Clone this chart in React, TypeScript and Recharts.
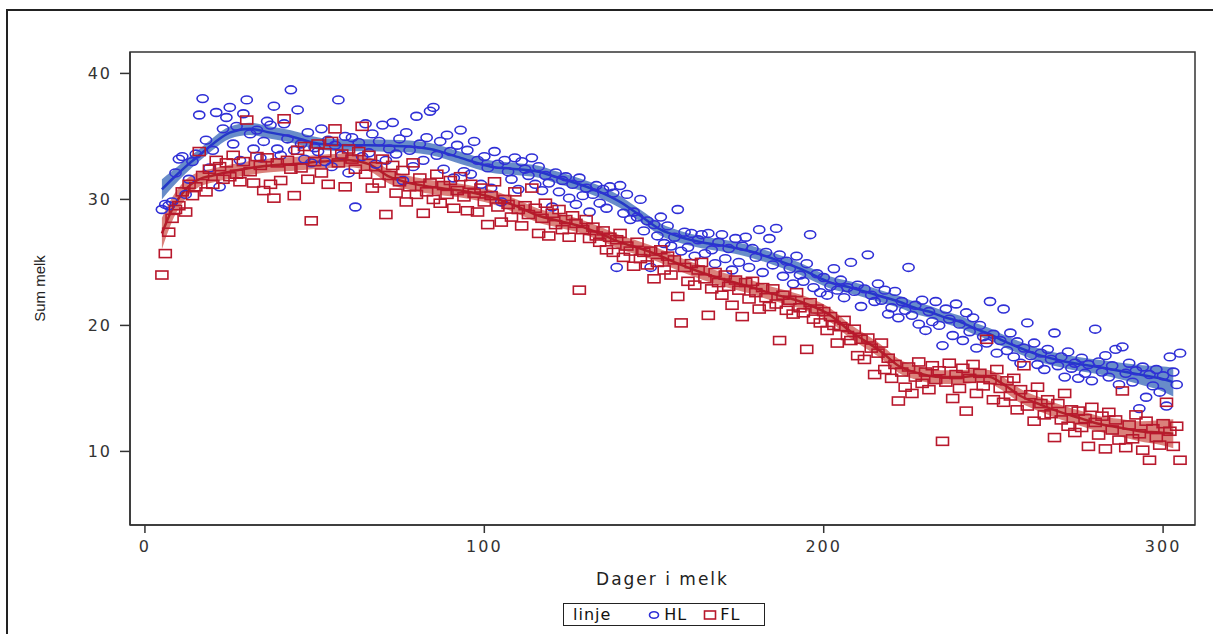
import {
  ComposedChart,
  Scatter,
  Line,
  Area,
  XAxis,
  YAxis,
  ReferenceArea,
} from "recharts";

// day-in-milk of the first observation for both groups
const FIRST_DAY = 5;

// HL, one value per day from day 5 to day 305
const hlValues = [
  29.2, 29.6, 29.5, 29.8, 32.1, 33.2, 33.4, 30.4, 31.6, 33.0,
  33.6, 36.7, 38.0, 34.7, 32.5, 33.9, 36.9, 31.0, 35.6, 36.5,
  37.3, 34.4, 35.8, 33.1, 36.8, 37.9, 35.2, 34.0, 35.5, 33.3,
  34.6, 36.2, 35.9, 37.4, 34.0, 33.5, 36.0, 34.8, 38.7, 33.9,
  37.1, 34.4, 33.2, 35.3, 32.9, 34.1, 33.8, 35.6, 33.0, 34.7,
  32.6, 34.3, 37.9, 33.5, 35.0, 32.1, 34.9, 29.4, 34.5, 33.4,
  36.0, 33.7, 35.2, 32.8, 34.6, 35.9, 33.1, 34.0, 36.1, 33.6,
  34.8, 31.5, 35.3, 33.9, 32.6, 36.6, 34.4, 33.1, 34.9, 37.0,
  37.3, 33.5, 34.6, 32.4, 35.1, 33.8, 31.7, 34.3, 35.5, 32.2,
  33.9, 32.0, 34.6, 33.1, 31.2, 33.4, 32.5, 30.9, 33.8, 32.8,
  29.8, 33.1, 32.2, 31.6, 33.3, 30.8, 33.0, 32.4, 31.9, 33.3,
  31.2, 32.6, 30.7, 31.9, 31.3, 29.4, 32.1, 30.6, 31.5, 31.8,
  30.1, 31.2, 29.6, 31.7, 30.3, 30.9, 29.0, 30.4, 31.1, 29.7,
  30.8, 29.3, 31.0, 30.5, 24.6, 31.1, 28.9, 30.4, 28.4, 29.0,
  28.6, 30.0, 27.5, 28.3, 24.6, 28.0, 27.1, 28.6, 26.5, 27.9,
  26.3, 27.0, 29.2, 25.9, 27.4, 26.2, 27.3, 25.5, 26.8, 27.2,
  25.7, 27.3, 26.0, 24.9, 26.6, 27.2, 25.3, 26.1, 24.4, 26.9,
  25.0, 26.3, 27.0, 24.6, 26.1, 25.4, 27.6, 24.2, 25.8, 26.9,
  24.8, 27.7, 25.6, 23.9, 25.1, 24.5, 23.3, 25.5, 24.0, 23.5,
  24.9, 27.2, 23.0, 24.1, 22.6, 23.8, 22.4, 23.1, 24.5, 22.8,
  23.6, 22.2, 23.0, 25.0, 22.7, 23.2, 21.5, 22.9, 25.6, 22.4,
  21.9, 23.3, 22.0, 22.8, 20.9, 21.4, 22.7, 20.6, 21.9, 21.2,
  24.6, 20.8, 21.6, 20.1, 22.0, 19.6, 21.1, 20.3, 21.9, 20.0,
  18.4, 21.3, 20.5, 19.2, 21.7, 20.1, 18.8, 21.0, 19.5, 20.6,
  18.2, 20.0, 19.1, 18.6, 21.9, 19.3, 17.8, 18.8, 21.3, 18.0,
  19.4, 17.5, 18.7, 17.0, 18.2, 20.2, 17.6, 18.6, 16.9, 17.8,
  16.5, 18.1, 17.3, 19.4, 16.8, 17.5, 15.9, 17.9, 16.6, 17.0,
  15.8, 17.4, 16.2, 16.9, 15.6, 19.7, 17.1, 16.3, 17.6, 15.9,
  16.8, 18.1, 15.3, 18.3, 16.2, 17.0, 15.5, 16.4, 13.4, 16.7,
  14.3, 16.1, 15.2, 16.5, 14.7, 16.0, 13.6, 17.5, 16.3, 15.3,
  17.8,
];

// FL, one value per day from day 5 to day 305
const flValues = [
  24.0, 25.7, 27.4, 28.5, 29.2, 29.5, 30.6, 29.0, 31.2, 30.3,
  31.0, 33.8, 31.9, 30.6, 32.4, 31.2, 33.1, 32.6, 31.6, 32.9,
  31.8, 33.5, 32.0, 31.4, 33.0, 36.3, 32.2, 31.3, 33.4, 32.7,
  30.7, 33.3, 31.2, 30.1, 32.9, 31.5, 36.4, 33.1, 32.4, 30.3,
  33.9, 32.5, 34.2, 31.6, 28.3, 33.0, 34.4, 32.1, 33.7, 31.2,
  34.6, 35.6, 32.9, 33.6, 31.0, 34.0, 33.2, 32.4, 33.8, 35.8,
  32.0, 33.5, 30.9, 32.6, 31.3, 33.2, 28.8, 31.9, 32.7, 30.5,
  31.4, 32.3, 29.8, 31.0, 32.9, 30.4, 31.7, 28.9, 30.6, 31.3,
  30.0, 32.0, 29.7, 31.1, 30.4, 31.5, 29.3, 30.7, 31.8, 30.2,
  29.1, 31.2, 30.5, 29.0, 30.9, 29.8, 28.0, 30.3, 31.4, 29.4,
  28.2, 30.0, 29.6, 28.6, 30.6, 29.2, 27.9, 29.5, 28.8, 30.9,
  29.3, 27.3, 28.5, 29.7, 27.1, 28.9, 28.0, 29.2, 27.6, 28.4,
  27.0, 28.7, 28.1, 22.8, 27.6, 28.4, 26.9, 27.8, 27.1, 26.6,
  27.5, 26.0, 27.0, 25.8, 26.8, 27.3, 25.4, 26.3, 25.9, 24.7,
  26.6, 25.3, 25.8, 24.8, 25.9, 23.7, 25.0, 26.0, 24.4, 25.5,
  24.0, 25.2, 22.3, 20.2, 24.6, 23.5, 24.9, 23.2, 24.4, 25.0,
  23.7, 20.8, 22.9, 24.2, 23.4, 22.4, 24.0, 23.1, 21.6, 23.6,
  22.8, 20.7, 23.4, 22.1, 23.5, 22.6, 21.3, 23.0, 22.2, 21.5,
  22.9, 21.7, 18.8, 22.4, 21.2, 22.0, 20.9, 22.6, 21.4, 21.0,
  18.1, 21.8, 20.5, 21.3, 20.2, 21.1, 19.6, 20.7, 20.0, 18.6,
  19.9, 20.4, 19.2, 18.8, 19.7, 17.6, 18.9, 17.3, 19.0, 18.2,
  16.1, 17.8, 18.6, 16.5, 17.4, 15.8, 16.9, 14.0, 16.3, 15.1,
  16.7, 14.6, 15.9, 17.1, 15.4, 16.3, 14.9, 16.8, 15.7, 16.4,
  10.8, 15.5, 17.0, 14.2, 16.1, 15.0, 16.6, 13.2, 15.8, 16.9,
  14.6, 16.2, 15.2, 18.9, 15.7, 14.1, 16.5, 15.0, 13.9, 15.6,
  14.4, 15.8, 13.3, 14.9, 16.8, 13.6, 14.5, 12.4, 15.1, 13.8,
  12.9, 14.1, 13.0, 11.1, 13.8, 12.5, 14.6, 12.0, 13.3, 11.5,
  13.2, 11.9, 12.6, 10.4, 13.5, 12.3, 11.3, 12.8, 10.2, 13.1,
  11.7, 12.5, 10.9, 14.8, 10.3, 12.1, 11.0, 12.9, 11.4, 10.1,
  12.4, 9.3, 11.8, 11.1, 10.5, 12.2, 13.9, 11.6, 10.4, 12.0,
  9.3,
];

// smoothed fits (lowess-like) and half-width of their confidence bands
const smoothDays = [
  5, 8, 12, 16, 20, 25, 31, 37, 43, 52, 60, 66, 72, 78, 84, 93, 102, 110,
  116, 122, 128, 134, 140, 146, 152, 158, 164, 171, 178, 185, 193, 202, 208,
  212, 217, 222, 228, 231, 235, 240, 245, 249, 252, 258, 264, 270, 276, 281,
  287, 293, 299, 303,
];
const hlSmooth = [
  30.8, 31.6, 32.6, 33.5, 34.4, 35.3, 35.6, 35.3, 35.0, 34.4, 34.3, 34.3,
  34.25, 34.2, 34.0, 33.3, 32.6, 32.4, 32.2, 31.7, 31.2, 30.6, 29.8, 28.7,
  27.6, 27.0, 26.6, 26.3, 25.9, 25.3, 24.5, 23.4, 23.0, 22.7, 22.3, 21.9,
  21.3, 21.1, 20.7, 20.3, 19.7, 19.3, 18.9, 18.2, 17.6, 17.2, 16.9, 16.7,
  16.4, 16.1, 15.8, 15.5,
];
const flSmooth = [
  27.3, 29.2, 30.8, 31.6, 31.9, 32.2, 32.5, 32.7, 32.8, 33.0, 33.1, 32.8,
  31.8, 31.3, 31.0, 30.7, 30.2, 29.4, 28.7, 28.3, 27.9, 27.3, 26.6, 26.1,
  25.5, 24.8, 24.2, 23.6, 23.1, 22.5, 21.9, 20.8, 19.5, 18.8, 17.9, 16.8,
  16.2, 16.0, 15.9, 15.9, 16.0, 15.9, 15.5, 14.4, 13.7, 13.1, 12.6, 12.2,
  11.9, 11.6, 11.5, 11.4,
];
const hlBandHalf = [
  0.8, 0.65, 0.55, 0.48, 0.48, 0.48, 0.48, 0.48, 0.48, 0.48, 0.48, 0.48,
  0.48, 0.48, 0.48, 0.48, 0.48, 0.48, 0.48, 0.48, 0.48, 0.48, 0.48, 0.48,
  0.48, 0.48, 0.48, 0.48, 0.48, 0.48, 0.48, 0.48, 0.48, 0.48, 0.48, 0.48,
  0.48, 0.48, 0.48, 0.48, 0.48, 0.48, 0.48, 0.5, 0.52, 0.54, 0.56, 0.58,
  0.65, 0.76, 0.95, 1.15,
];
const flBandHalf = [
  1.25, 0.95, 0.75, 0.6, 0.55, 0.55, 0.55, 0.55, 0.55, 0.55, 0.55, 0.55,
  0.55, 0.55, 0.55, 0.55, 0.55, 0.55, 0.55, 0.55, 0.55, 0.55, 0.55, 0.55,
  0.55, 0.55, 0.55, 0.55, 0.55, 0.55, 0.55, 0.55, 0.55, 0.55, 0.55, 0.55,
  0.55, 0.55, 0.55, 0.55, 0.55, 0.55, 0.55, 0.56, 0.57, 0.58, 0.6, 0.62,
  0.7, 0.8, 0.98, 1.15,
];

const xTicks = [0, 100, 200, 300];
const yTicks = [10, 20, 30, 40];
const X_DOMAIN = [-4.4, 309.4];
const Y_DOMAIN = [4.16, 41.7];

const BLUE = "#2f2fd6";
const BLUE_LINE = "#2438c8";
const BLUE_BAND = "rgba(62,108,186,0.78)";
const RED = "#b8182c";
const RED_LINE = "#b2202a";
const RED_BAND = "rgba(200,70,60,0.68)";
const AXIS = "#333";
const FONT = "'DejaVu Sans', Arial, sans-serif";

const hlPoints = hlValues.map((v, i) => ({ day: FIRST_DAY + i, value: v }));
const flPoints = flValues.map((v, i) => ({ day: FIRST_DAY + i, value: v }));

const smoothData = smoothDays.map((d, i) => ({
  day: d,
  hl: hlSmooth[i],
  fl: flSmooth[i],
  hlBand: [hlSmooth[i] - hlBandHalf[i], hlSmooth[i] + hlBandHalf[i]],
  flBand: [flSmooth[i] - flBandHalf[i], flSmooth[i] + flBandHalf[i]],
}));

const Circle = (p: any) => (
  <ellipse cx={p.cx} cy={p.cy} rx={5.6} ry={3.9} fill="none" stroke={BLUE} strokeWidth={1.6} />
);

const Square = (p: any) => (
  <rect x={p.cx - 6} y={p.cy - 4} width={12} height={8} fill="none" stroke={RED} strokeWidth={1.6} />
);

const YLabel = (props: any) => {
  const { viewBox } = props;
  const x = viewBox.x + 15;
  const y = viewBox.y + viewBox.height / 2;
  return (
    <text
      x={x}
      y={y}
      transform={`rotate(-90 ${x} ${y})`}
      textAnchor="middle"
      fill="#222"
      fontSize={15}
      fontFamily="'Liberation Sans', Arial, sans-serif"
    >
      Sum melk
    </text>
  );
};

const LegendBox = () => (
  <div
    style={{
      position: "absolute",
      left: 563,
      top: 603,
      width: 202,
      height: 23,
      border: "1.5px solid #222",
      fontFamily: FONT,
      fontSize: 16,
      letterSpacing: 1,
      color: "#111",
      display: "flex",
      alignItems: "center",
      boxSizing: "border-box",
      paddingLeft: 9,
      lineHeight: "18px",
    }}
  >
    <span>linje</span>
    <svg width={14} height={10} style={{ marginLeft: 36 }}>
      <ellipse cx={7} cy={5} rx={4.5} ry={3.3} fill="none" stroke={BLUE} strokeWidth={1.6} />
    </svg>
    <span style={{ marginLeft: 3 }}>HL</span>
    <svg width={14} height={10} style={{ marginLeft: 16 }}>
      <rect x={1.5} y={1} width={11} height={8} fill="none" stroke={RED} strokeWidth={1.6} />
    </svg>
    <span style={{ marginLeft: 3 }}>FL</span>
  </div>
);

export default function App() {
  const tickStyle = { fill: AXIS, fontSize: 16, fontFamily: FONT, letterSpacing: 2 };
  return (
    <div style={{ position: "relative", width: 1213, height: 634, overflow: "hidden", background: "#fff" }}>
      <style>{`body{margin:0}`}</style>
      <div
        style={{
          position: "absolute",
          left: 6,
          top: 9,
          width: 1300,
          height: 700,
          border: "2px solid #222",
        }}
      />
      <ComposedChart
        width={1213}
        height={634}
        data={smoothData}
        margin={{ top: 52, right: 18, left: 30, bottom: 69 }}
        style={{ position: "absolute", left: 0, top: 0 }}
      >
        <XAxis
          dataKey="day"
          type="number"
          domain={X_DOMAIN}
          ticks={xTicks}
          allowDataOverflow
          height={40}
          tickSize={8}
          tickMargin={8}
          stroke={AXIS}
          strokeWidth={1.5}
          tick={tickStyle}
          label={{
            value: "Dager i melk",
            position: "bottom",
            offset: 8,
            fill: "#222",
            fontSize: 17,
            fontFamily: FONT,
            letterSpacing: 2,
          }}
        />
        <YAxis
          type="number"
          domain={Y_DOMAIN}
          ticks={yTicks}
          allowDataOverflow
          width={100}
          tickSize={10}
          tickMargin={8}
          stroke={AXIS}
          strokeWidth={1.5}
          tick={tickStyle}
          label={<YLabel />}
        />
        <ReferenceArea
          x1={X_DOMAIN[0]}
          x2={X_DOMAIN[1]}
          y1={Y_DOMAIN[0]}
          y2={Y_DOMAIN[1]}
          fill="none"
          stroke={AXIS}
          strokeWidth={1.5}
          ifOverflow="visible"
        />
        <Scatter data={hlPoints} dataKey="value" shape={Circle} isAnimationActive={false} />
        <Scatter data={flPoints} dataKey="value" shape={Square} isAnimationActive={false} />
        <Area
          dataKey="hlBand"
          type="monotone"
          stroke="none"
          fill={BLUE_BAND}
          fillOpacity={1}
          isAnimationActive={false}
          activeDot={false}
        />
        <Area
          dataKey="flBand"
          type="monotone"
          stroke="none"
          fill={RED_BAND}
          fillOpacity={1}
          isAnimationActive={false}
          activeDot={false}
        />
        <Line dataKey="hl" type="monotone" stroke={BLUE_LINE} strokeWidth={2.5} dot={false} activeDot={false} isAnimationActive={false} />
        <Line dataKey="fl" type="monotone" stroke={RED_LINE} strokeWidth={2.5} dot={false} activeDot={false} isAnimationActive={false} />
      </ComposedChart>
      <LegendBox />
    </div>
  );
}
